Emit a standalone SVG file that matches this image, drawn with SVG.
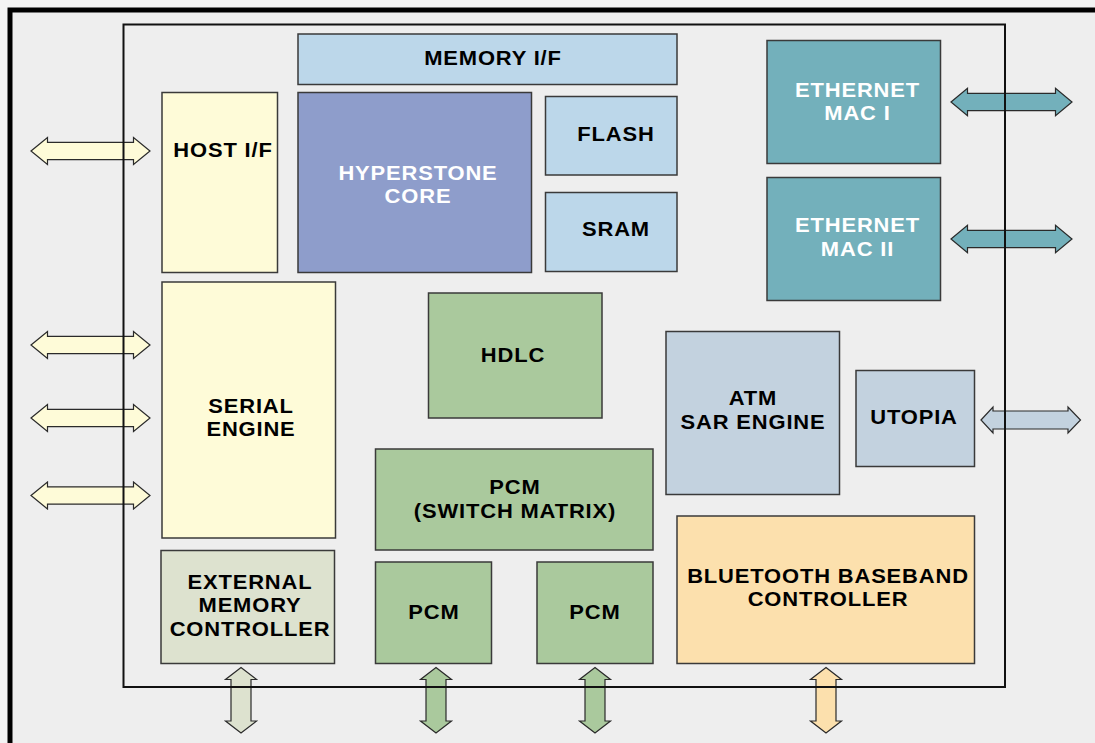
<svg xmlns="http://www.w3.org/2000/svg" width="1095" height="743" viewBox="0 0 1095 743">
<style>
.box{stroke:#3a3a3a;stroke-width:1.5}
.arr{stroke:#2a2a2a;stroke-width:1.2;stroke-linejoin:miter}
.t{font-family:"Liberation Sans",Arial,Helvetica,sans-serif;font-weight:bold;font-size:19.6px;text-anchor:middle;fill:#000;letter-spacing:0.75px}
.w{fill:#ffffff}
.blue{fill:#bcd7ea}.core{fill:#8e9dcb}.yel{fill:#fefbd8}.ext{fill:#dde2cf}.grn{fill:#aac99d}.atm{fill:#c3d2df}.bt{fill:#fce0ad}.eth{fill:#73b0bb}
</style>
<rect x="0" y="0" width="1095" height="743" fill="#f3f3f3"/>
<rect x="10" y="10" width="1100" height="760" fill="#eeeeee" stroke="#000" stroke-width="5"/>
<g id="connectors">
<polygon class="arr yel" points="31,151 47.5,137.5 47.5,142.3 133.5,142.3 133.5,137.5 150,151 133.5,164.5 133.5,159.7 47.5,159.7 47.5,164.5"/>
<polygon class="arr yel" points="31,345 47.5,331.5 47.5,336.3 133.5,336.3 133.5,331.5 150,345 133.5,358.5 133.5,353.7 47.5,353.7 47.5,358.5"/>
<polygon class="arr yel" points="31,418 47.5,404.5 47.5,409.3 133.5,409.3 133.5,404.5 150,418 133.5,431.5 133.5,426.7 47.5,426.7 47.5,431.5"/>
<polygon class="arr yel" points="31,495.5 47.5,482 47.5,486.8 133.5,486.8 133.5,482 150,495.5 133.5,509 133.5,504.2 47.5,504.2 47.5,509"/>
<polygon class="arr eth" points="951,102 967.5,88.3 967.5,93.3 1055.5,93.3 1055.5,88.3 1072,102 1055.5,115.7 1055.5,110.7 967.5,110.7 967.5,115.7"/>
<polygon class="arr eth" points="951,239 967.5,225.3 967.5,230.3 1055.5,230.3 1055.5,225.3 1072,239 1055.5,252.7 1055.5,247.7 967.5,247.7 967.5,252.7"/>
<polygon class="arr atm" points="981,420 993,407 993,411 1068,411 1068,407 1080.5,420 1068,433 1068,429 993,429 993,433"/>
<polygon class="arr ext" points="241,667.5 256.5,679.5 251,679.5 251,721 256.5,721 241,733 225.5,721 231,721 231,679.5 225.5,679.5"/>
<polygon class="arr grn" points="436,667.5 451.5,679.5 446,679.5 446,721 451.5,721 436,733 420.5,721 426,721 426,679.5 420.5,679.5"/>
<polygon class="arr grn" points="595,667.5 610.5,679.5 605,679.5 605,721 610.5,721 595,733 579.5,721 585,721 585,679.5 579.5,679.5"/>
<polygon class="arr bt" points="826,667.5 841.5,679.5 836,679.5 836,721 841.5,721 826,733 810.5,721 816,721 816,679.5 810.5,679.5"/>
</g>
<rect id="chip" x="123.5" y="24.5" width="881.5" height="662.5" fill="none" stroke="#111" stroke-width="2"/>
<g id="memory-if"><rect class="box blue" x="298" y="34" width="379" height="50.5"/><text class="t" transform="translate(493,65) scale(1.12,1)">MEMORY I/F</text></g>
<g id="hyperstone-core"><rect class="box core" x="298" y="92.5" width="233.5" height="180"/><text class="t w" transform="translate(418,180) scale(1.12,1)">HYPERSTONE</text><text class="t w" transform="translate(418,203) scale(1.12,1)">CORE</text></g>
<g id="flash"><rect class="box blue" x="545.5" y="96.5" width="131.5" height="78.5"/><text class="t" transform="translate(616,141) scale(1.12,1)">FLASH</text></g>
<g id="sram"><rect class="box blue" x="545.5" y="192.5" width="131.5" height="79"/><text class="t" transform="translate(616,236) scale(1.12,1)">SRAM</text></g>
<g id="host-if"><rect class="box yel" x="162" y="92.5" width="115.5" height="180"/><text class="t" transform="translate(223,157) scale(1.12,1)">HOST I/F</text></g>
<g id="serial-engine"><rect class="box yel" x="162" y="282" width="173.5" height="256"/><text class="t" transform="translate(251,413) scale(1.12,1)">SERIAL</text><text class="t" transform="translate(251,436) scale(1.12,1)">ENGINE</text></g>
<g id="external-memory-controller"><rect class="box ext" x="161" y="550.5" width="173.5" height="113"/><text class="t" transform="translate(250,588.5) scale(1.12,1)">EXTERNAL</text><text class="t" transform="translate(250,612) scale(1.12,1)">MEMORY</text><text class="t" transform="translate(250,636) scale(1.12,1)">CONTROLLER</text></g>
<g id="hdlc"><rect class="box grn" x="428.5" y="293" width="173.5" height="125"/><text class="t" transform="translate(513,362) scale(1.12,1)">HDLC</text></g>
<g id="pcm-switch"><rect class="box grn" x="375.5" y="449" width="277.5" height="101"/><text class="t" transform="translate(515,493.5) scale(1.12,1)">PCM</text><text class="t" transform="translate(515,517.5) scale(1.12,1)">(SWITCH MATRIX)</text></g>
<g id="pcm-1"><rect class="box grn" x="375.5" y="562" width="116" height="101.5"/><text class="t" transform="translate(434,619) scale(1.12,1)">PCM</text></g>
<g id="pcm-2"><rect class="box grn" x="537" y="562" width="116" height="101.5"/><text class="t" transform="translate(595,619) scale(1.12,1)">PCM</text></g>
<g id="atm-sar-engine"><rect class="box atm" x="666" y="331.5" width="173.5" height="163"/><text class="t" transform="translate(753,404.5) scale(1.12,1)">ATM</text><text class="t" transform="translate(753,429) scale(1.12,1)">SAR ENGINE</text></g>
<g id="utopia"><rect class="box atm" x="856" y="370.5" width="118.5" height="96"/><text class="t" transform="translate(914,423.5) scale(1.12,1)">UTOPIA</text></g>
<g id="bluetooth"><rect class="box bt" x="677" y="516" width="297.5" height="147.5"/><text class="t" transform="translate(828,583) scale(1.12,1)">BLUETOOTH BASEBAND</text><text class="t" transform="translate(828,606) scale(1.12,1)">CONTROLLER</text></g>
<g id="ethernet-mac-1"><rect class="box eth" x="767" y="40.5" width="173.5" height="123"/><text class="t w" transform="translate(857.5,97) scale(1.12,1)">ETHERNET</text><text class="t w" transform="translate(857.5,120) scale(1.12,1)">MAC I</text></g>
<g id="ethernet-mac-2"><rect class="box eth" x="767" y="177.5" width="173.5" height="123"/><text class="t w" transform="translate(857.5,232) scale(1.12,1)">ETHERNET</text><text class="t w" transform="translate(857.5,256) scale(1.12,1)">MAC II</text></g>
</svg>
